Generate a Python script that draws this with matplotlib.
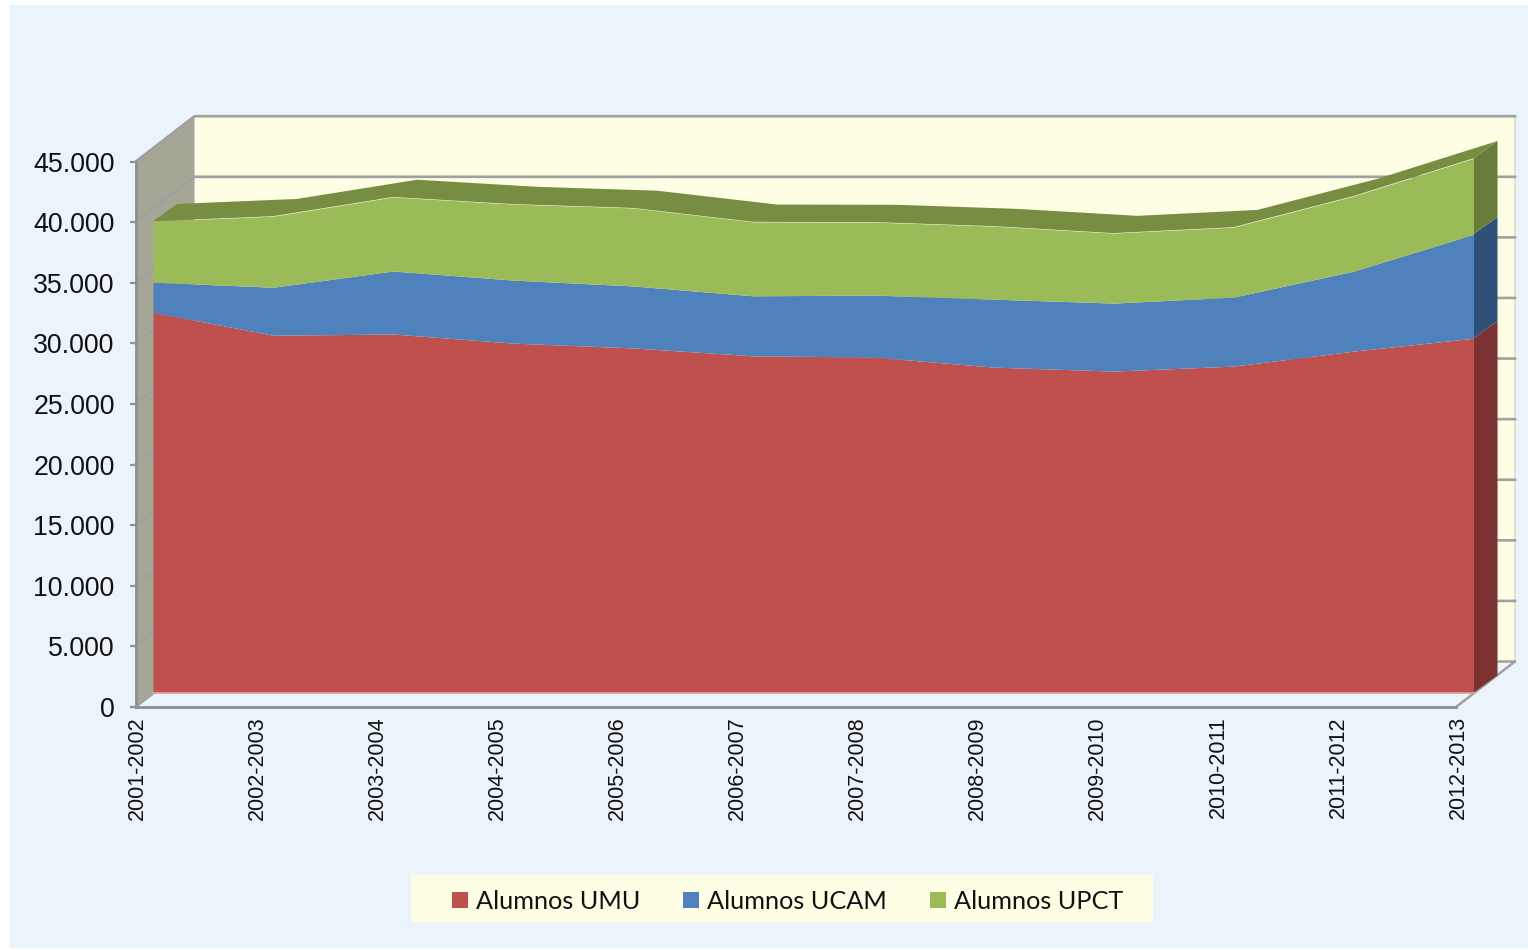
import numpy as np
import matplotlib
matplotlib.use("Agg")
import matplotlib.pyplot as plt
import matplotlib.transforms as mtrans
from matplotlib.patches import Polygon, Rectangle, Patch
from matplotlib.ticker import FuncFormatter

courses = ["2001-2002", "2002-2003", "2003-2004", "2004-2005", "2005-2006", "2006-2007",
           "2007-2008", "2008-2009", "2009-2010", "2010-2011", "2011-2012", "2012-2013"]
umu = [31400, 29500, 29600, 28850, 28450, 27800, 27700, 26870, 26540, 26950, 28190, 29250]
ucam = [2475, 3960, 5200, 5200, 5115, 4950, 5115, 5610, 5610, 5690, 6600, 8580]
upct = [5030, 5860, 6105, 6270, 6435, 6105, 6020, 6020, 5775, 5775, 6190, 6270]
names = ["Alumnos UMU", "Alumnos UCAM", "Alumnos UPCT"]

C_FRONT = ["#C0504D", "#4F81BD", "#9BBB59"]
C_SIDE = ["#7B3230", "#2F5079", "#6A7C3A"]
C_TOP = "#778E42"
C_PANEL = "#EBF4FB"
C_WALL = "#FEFEE4"
C_SIDEWALL = "#A6A696"
C_GRID = "#A0A0A0"
C_AXIS = "#8E8E94"

W, H = 1528, 950
fig = plt.figure(figsize=(W / 100, H / 100), dpi=100, facecolor="white")
fig.patches.append(Rectangle((10 / W, 1 - 948 / H), (W - 10) / W, 943 / H, transform=fig.transFigure,
                             facecolor=C_PANEL, edgecolor="none", zorder=-10))
fig.patches.append(Rectangle((411 / W, 1 - 922 / H), 742 / W, 47 / H, transform=fig.transFigure,
                             facecolor=C_WALL, edgecolor="none", zorder=-9))
ax = fig.add_axes([135.5 / W, (H - 707) / H, 1320.5 / W, 545.3 / H])
ax.patch.set_alpha(0)
ax.set_xlim(0, 11)
ax.set_ylim(0, 45000)

# depth of the 3D box, expressed in data units
PX = 11 / 1320.5
PY = 45000 / 545.3
BACK_X, BACK_Y = 59 * PX, 45.5 * PY
FRONT_X, FRONT_Y = 17.5 * PX, 14.3 * PY
EXT_X, EXT_Y = 24 * PX, 17.3 * PY

x = np.arange(len(courses), dtype=float)
yticks = np.arange(0, 45001, 5000)

# walls
ax.add_patch(Polygon([(BACK_X, BACK_Y), (11 + BACK_X, BACK_Y), (11 + BACK_X, 45000 + BACK_Y), (BACK_X, 45000 + BACK_Y)],
                     closed=True, fc=C_WALL, ec="none", zorder=1, clip_on=False))
ax.add_patch(Polygon([(0, 0), (BACK_X, BACK_Y), (BACK_X, 45000 + BACK_Y), (0, 45000)],
                     closed=True, fc=C_SIDEWALL, ec="none", zorder=1, clip_on=False))
ax.plot([11 + BACK_X] * 2, [BACK_Y, 45000 + BACK_Y], color="#DDE3D6", lw=1.5, zorder=1.5, clip_on=False)

# gridlines on side wall and back wall
for v in yticks[1:]:
    ax.plot([0, BACK_X, 11 + BACK_X], [v, v + BACK_Y, v + BACK_Y], color=C_GRID, lw=1.9, zorder=2,
            clip_on=False, solid_joinstyle="miter")
# floor edges
ax.plot([11, 11 + BACK_X, BACK_X, 0], [0, BACK_Y, BACK_Y, 0], color=C_GRID, lw=1.8, zorder=2, clip_on=False)

# stacked layers
low = np.zeros(len(x))
xf = x + FRONT_X
tops = []
for vals in (umu, ucam, upct):
    top = low + np.array(vals, dtype=float)
    tops.append((low.copy(), top.copy()))
    low = top

# top face of the upper layer
lo_top = tops[-1][1] + FRONT_Y
ax.add_patch(Polygon(np.r_[np.c_[xf, lo_top], np.c_[xf[::-1] + EXT_X, lo_top[::-1] + EXT_Y]],
                     closed=True, fc=C_TOP, ec="none", zorder=3, clip_on=False))
# right side faces and front faces
for (lo, hi), cf, cs in zip(tops, C_FRONT, C_SIDE):
    xr = xf[-1]
    yl, yh = lo[-1] + FRONT_Y, hi[-1] + FRONT_Y
    ax.add_patch(Polygon([(xr, yl), (xr + EXT_X, yl + EXT_Y), (xr + EXT_X, yh + EXT_Y), (xr, yh)],
                         closed=True, fc=cs, ec="none", zorder=3.5, clip_on=False))
    ax.fill_between(xf, lo + FRONT_Y, hi + FRONT_Y, color=cf, lw=0, zorder=4, clip_on=False)
ax.plot(xf, np.full(len(x), FRONT_Y), color="#E2A5A2", lw=1.2, zorder=4.5, clip_on=False)

# axes
for s in ("top", "right"):
    ax.spines[s].set_visible(False)
for s in ("left", "bottom"):
    ax.spines[s].set_color(C_AXIS)
    ax.spines[s].set_linewidth(2.0)
    ax.spines[s].set_zorder(5)
ax.set_yticks(yticks)
ax.yaxis.set_major_formatter(FuncFormatter(lambda v, _: f"{int(v):,}".replace(",", ".")))
ax.set_xticks(x)
ax.set_xticklabels(courses, rotation=90, ha="center", va="top",
                   fontfamily="Liberation Sans", fontsize=15.5, color="#111111")
ax.tick_params(axis="x", length=0, pad=6.5)
ax.tick_params(axis="y", length=4, width=1.6, color=C_AXIS, pad=11, labelsize=19.3, labelcolor="#111111")
for t in ax.get_yticklabels():
    t.set_fontfamily("Liberation Sans")
shift = mtrans.Affine2D().translate(2, 0)
for t in ax.get_xticklabels():
    t.set_transform(t.get_transform() + shift)

handles = [Patch(fc=c, ec="none") for c in C_FRONT]
leg = fig.legend(handles, names, loc="center", bbox_to_anchor=(787.5 / W, 1 - 901.5 / H), ncol=3,
                 frameon=False, prop={"family": "Lato", "size": 18.2}, handlelength=0.63, handleheight=0.63,
                 handletextpad=0.32, columnspacing=1.7, borderpad=0, labelcolor="#111111")
fig.savefig("out.png", dpi=100, facecolor=fig.get_facecolor())
